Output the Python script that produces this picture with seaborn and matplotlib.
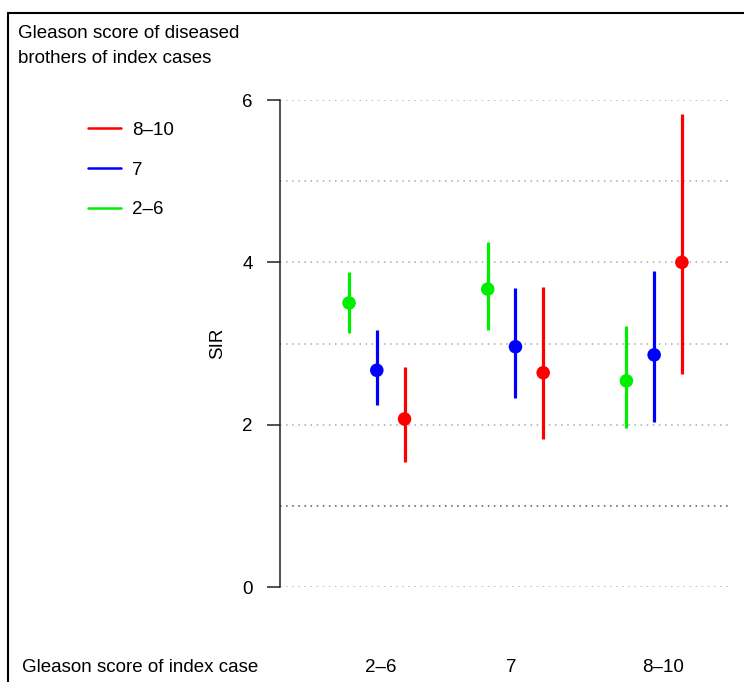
import matplotlib
matplotlib.use("Agg")
import matplotlib.pyplot as plt
from matplotlib.lines import Line2D
from matplotlib.transforms import ScaledTranslation
import seaborn as sns
import pandas as pd

# Standardised incidence ratios by Gleason score of index case (groups)
# and Gleason score of diseased brothers (series)
index_groups = ["2\u20136", "7", "8\u201310"]

# point estimates per brother score across index groups
sir_26 = [3.50, 3.67, 2.54]
sir_7 = [2.67, 2.96, 2.86]
sir_810 = [2.07, 2.64, 4.00]

# 95% confidence limits
lo_26 = [3.13, 3.17, 1.96]
hi_26 = [3.88, 4.25, 3.22]
lo_7 = [2.24, 2.33, 2.03]
hi_7 = [3.17, 3.68, 3.89]
lo_810 = [1.54, 1.82, 2.62]
hi_810 = [2.71, 3.70, 5.83]

series_colors = {"2\u20136": "#00ee00", "7": "#0000ff", "8\u201310": "#ff0000"}
offsets = {"2\u20136": -0.2, "7": 0.0, "8\u201310": 0.2}

rows = []
for score, est, lo, hi in [("2\u20136", sir_26, lo_26, hi_26),
                           ("7", sir_7, lo_7, hi_7),
                           ("8\u201310", sir_810, lo_810, hi_810)]:
    for i, g in enumerate(index_groups):
        rows.append({"index": g, "brother": score, "sir": est[i],
                     "lo": lo[i], "hi": hi[i],
                     "pos": i + offsets[score]})
df = pd.DataFrame(rows)

sns.set_theme(style="white")
plt.rcParams["font.family"] = ["Liberation Sans", "DejaVu Sans"]
plt.rcParams["text.color"] = "black"
plt.rcParams["axes.labelcolor"] = "black"
plt.rcParams["xtick.color"] = "black"
plt.rcParams["ytick.color"] = "black"

FS = 13.5
W, H = 744, 682
fig = plt.figure(figsize=(W / 100, H / 100), dpi=100)
ax = fig.add_axes([280 / W, 1 - 587 / H, 450 / W, 487 / H])

# dotted reference grid
for yv in [0, 2, 3, 4, 5, 6]:
    ax.axhline(yv, color="#aaaaaa", lw=1.1, ls=(0, (1, 3)), zorder=0)
ax.axhline(1, color="#555555", lw=1.1, ls=(0, (1, 3)), zorder=0)

# confidence intervals
for _, r in df.iterrows():
    ax.vlines(r["pos"], r["lo"], r["hi"], color=series_colors[r["brother"]],
              lw=2.3, zorder=2)

sns.scatterplot(data=df, x="pos", y="sir", hue="brother",
                palette=series_colors, s=95, edgecolor="none",
                legend=False, ax=ax, zorder=3, clip_on=False)

ax.set_xlim(-0.698, 2.547)
ax.set_ylim(0, 6)
ax.set_xticks(range(len(index_groups)))
ax.set_xticklabels(index_groups, fontsize=FS)
ax.tick_params(axis="x", length=0, pad=52)
# nudge the group labels slightly, as in the printed layout
for lab, dx in zip(ax.get_xticklabels(), [4, -4, 9]):
    lab.set_transform(lab.get_transform() + ScaledTranslation(dx / 100, 0, fig.dpi_scale_trans))
ax.set_yticks([0, 2, 4, 6])
ax.set_yticklabels(["0", "2", "4", "6"], fontsize=FS)
ax.tick_params(axis="y", direction="out", length=9.5, width=1.1,
               color="#222222", pad=10, left=True)
ax.set_xlabel("")
ax.set_ylabel("SIR", fontsize=FS, labelpad=12)

for s in ["top", "right", "bottom"]:
    ax.spines[s].set_visible(False)
ax.spines["left"].set_bounds(0, 6)
ax.spines["left"].set_color("#222222")
ax.spines["left"].set_linewidth(1.1)

# legend for brothers' Gleason score
handles = [Line2D([0], [0], color=series_colors[s], lw=1.8) for s in ["8\u201310", "7", "2\u20136"]]
fig.legend(handles, ["8\u201310", "7", "2\u20136"], loc="upper left",
           bbox_to_anchor=(71 / W, 1 - 105 / H), frameon=False, fontsize=FS,
           handlelength=1.76, handletextpad=0.6, labelspacing=1.2)

fig.text(18 / W, 1 - 46 / H, "Gleason score of diseased\nbrothers of index cases",
         fontsize=FS, va="center", ha="left", linespacing=1.6)
fig.text(22 / W, 1 - 667 / H, "Gleason score of index case",
         fontsize=FS, va="center", ha="left")

# frame around the figure
fig.add_artist(Line2D([8 / W, 1], [1 - 13 / H, 1 - 13 / H], color="black", lw=1.5,
                      transform=fig.transFigure))
fig.add_artist(Line2D([8 / W, 8 / W], [0, 1 - 13 / H], color="black", lw=1.5,
                      transform=fig.transFigure))

fig.savefig("out.png", dpi=100)
